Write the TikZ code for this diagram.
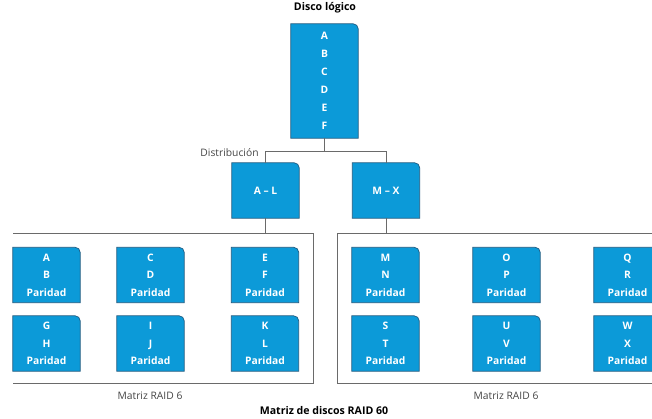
\documentclass[tikz,border=0pt]{standalone}
\usepackage{fontspec}
\setmainfont{Open Sans}
\usetikzlibrary{backgrounds}
\definecolor{diskfill}{HTML}{0C9AD8}
\definecolor{diskedge}{HTML}{1D5A80}
\definecolor{wirecol}{HTML}{6A6A6A}
\definecolor{captioncol}{HTML}{444444}
\begin{document}
\begin{tikzpicture}[x=1pt,y=-1pt,
  disk/.style={minimum width=67pt,minimum height=55pt,inner sep=0pt,
    text=white,align=center,font=\bfseries\fontsize{10.3}{17.5}\selectfont},
  tall/.style={disk,minimum height=114pt,font=\bfseries\fontsize{10.3}{18}\selectfont},
  wire/.style={draw=wirecol,line width=0.9pt},
  frame/.style={draw=wirecol,line width=0.9pt},
  captext/.style={text=captioncol,font=\fontsize{10.3}{12}\selectfont,inner sep=0pt},
  heading/.style={text=black,font=\bfseries\fontsize{10.6}{12}\selectfont,inner sep=0pt}]
\useasboundingbox (0,0) rectangle (652,419);
\clip (0,0) rectangle (652,419);

% headings and captions
\node[heading] (t1) at (325,8) {Disco lógico};
\node[heading] (t2) at (324,411) {Matriz de discos RAID 60};
\node[captext] (dist) at (229.5,153) {Distribución};
\node[captext] (capl) at (150,396) {Matriz RAID 6};
\node[captext] (capr) at (506,396) {Matriz RAID 6};

% logical disk and the two stripes
\node[tall] (top) at (324.5,81) {A\\B\\C\\D\\E\\F};
\node[disk] (al) at (265.5,190.5) {A – L};
\node[disk] (mx) at (386,190.5) {M – X};

% left RAID 6 group
\node[disk] (d1) at (46.5,275)   {A\\B\\Paridad};
\node[disk] (d2) at (150.5,275)  {C\\D\\Paridad};
\node[disk] (d3) at (265,275)    {E\\F\\Paridad};
\node[disk] (d4) at (46.5,343.5) {G\\H\\Paridad};
\node[disk] (d5) at (150.5,343.5){I\\J\\Paridad};
\node[disk] (d6) at (265,343.5)  {K\\L\\Paridad};

% right RAID 6 group
\node[disk] (e1) at (385.5,275)   {M\\N\\Paridad};
\node[disk] (e2) at (506.5,275)   {O\\P\\Paridad};
\node[disk] (e3) at (627.5,275)   {Q\\R\\Paridad};
\node[disk] (e4) at (385.5,343.5) {S\\T\\Paridad};
\node[disk] (e5) at (506.5,343.5) {U\\V\\Paridad};
\node[disk] (e6) at (627.5,343.5) {W\\X\\Paridad};

% disk bodies: square corners except the upper right one
\begin{scope}[on background layer]
\foreach \n in {top,al,mx,d1,d2,d3,d4,d5,d6,e1,e2,e3,e4,e5,e6}
  \filldraw[fill=diskfill,draw=diskedge,line width=0.7pt]
    (\n.south west) -- (\n.north west) -- ([xshift=-5pt]\n.north east)
    arc[start angle=90,end angle=0,radius=5pt] -- (\n.south east) -- cycle;
\end{scope}

% group frames
\coordinate (lfa) at (13,233);
\coordinate (lfb) at (313,233);
\coordinate (lfc) at (313,383);
\coordinate (lfd) at (13,383);
\coordinate (rfa) at (660,233);
\coordinate (rfb) at (337,233);
\coordinate (rfc) at (337,383);
\coordinate (rfd) at (660,383);
\draw[frame] (lfa) -- (lfb) -- (lfc) -- (lfd);
\draw[frame] (rfa) -- (rfb) -- (rfc) -- (rfd);

% distribution tree
\draw[wire] (top.south) -- ++(0,13) coordinate (split);
\draw[wire] (al.north) |- (split) -| (mx.north);
\draw[wire] (al.south) -- (al.south |- lfb);
\draw[wire] (mx.south) -- (mx.south |- rfb);
\end{tikzpicture}
\end{document}
